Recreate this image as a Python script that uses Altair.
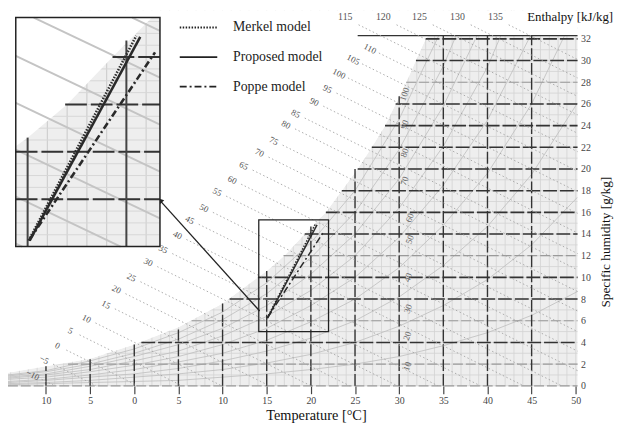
import altair as alt
import pandas as pd

FONT = "Liberation Serif"

# ---------------- axes ranges ----------------
T_MIN, T_MAX = -14.3, 50.2
W_MIN, W_MAX = 0.0, 34.6

# ---------------- saturation boundary ----------------
SAT_T = [-14.3, -10, -5, 0, 5, 10, 15, 17, 19.3, 21.7, 23.5, 25.3, 26.9, 28.4, 29.6, 30.8, 31.9, 33.0, 33.3, 50.2]
SAT_W = [1.2, 1.8, 2.5, 3.8, 5.4, 7.6, 10.6, 12, 14, 16, 18, 20, 22, 24, 26, 28, 30, 32, 32.3, 32.3]

# fine background grid
GRID_T = list(range(-14, 51))
GRID_W = list(range(0, 35))

# specific humidity lines: level and starting temperature
HUM_LEVELS = [0, 2, 4, 6, 8, 10, 12, 14, 16, 18, 20, 22, 24, 26, 28, 30, 32]
HUM_T0 = [-14.3, -7.5, 0.8, 6.5, 10.8, 14.0, 16.9, 19.3, 21.7, 23.5, 25.3, 26.9, 28.4, 29.6, 30.8, 31.9, 33.0]
LIGHT_LEVELS = [0, 2, 6, 12, 28]
FRAME_W, FRAME_T0 = 32.3, 25.3

# temperature lines: level and top (saturation) humidity
TEMP_LEVELS = [-10, -5, 0, 5, 10, 15, 20, 25, 30, 35, 40, 45]
TEMP_TOP = [1.8, 2.5, 3.8, 5.4, 7.6, 10.6, 14.7, 20.0, 26.7, 32.3, 32.3, 32.3]
X_TICKS = [-10, -5, 0, 5, 10, 15, 20, 25, 30, 35, 40, 45, 50]
Y_TICKS = list(range(0, 33, 2))

# relative humidity curves
RH_T = [-14.3, -10, -5, 0, 5, 10, 15, 20, 25, 30, 35, 40, 45, 50.2]
RH_CURVES = {
    10: [0.1, 0.2, 0.3, 0.4, 0.5, 0.8, 1.1, 1.5, 2.0, 2.7, 3.7, 4.9, 6.5, 8.7],
    20: [0.2, 0.3, 0.5, 0.8, 1.1, 1.5, 2.1, 2.9, 4.0, 5.5, 7.4, 9.8, 13.0, 17.4],
    30: [0.3, 0.5, 0.8, 1.1, 1.6, 2.3, 3.2, 4.4, 6.0, 8.2, 11.1, 14.7, 19.5, 26.1],
    40: [0.4, 0.6, 1.0, 1.5, 2.2, 3.0, 4.2, 5.9, 8.0, 10.9, 14.8, 19.6, 26.0, 34.8],
    50: [0.6, 0.8, 1.3, 1.9, 2.7, 3.8, 5.3, 7.4, 10.0, 13.7, 18.5, 24.5, 32.5, 43.5],
    60: [0.7, 1.0, 1.5, 2.3, 3.2, 4.6, 6.4, 8.8, 12.0, 16.4, 22.1, 29.4, 39.0, 52.0],
    70: [0.8, 1.1, 1.8, 2.7, 3.8, 5.3, 7.4, 10.3, 14.0, 19.1, 25.8, 34.3, 45.5, 61.0],
    80: [0.9, 1.3, 2.0, 3.0, 4.3, 6.1, 8.5, 11.8, 16.0, 21.8, 29.5, 39.2, 52.0, 70.0],
    90: [1.0, 1.4, 2.3, 3.4, 4.9, 6.8, 9.5, 13.2, 18.0, 24.6, 33.2, 44.1, 58.5, 78.0],
}
RH_LAB = [100, 90, 80, 70, 60, 50, 40, 30, 20, 10]
RH_LAB_T = [30.6, 30.6, 30.6, 30.6, 31.2, 31.2, 31.0, 31.0, 30.9, 30.9]
RH_LAB_W = [26.9, 24.1, 21.5, 18.9, 15.5, 13.5, 10.0, 7.1, 4.6, 1.8]

# enthalpy lines (labels on the left/top, segments)
H_VALUES = [-10, -5, 0, 5, 10, 15, 20, 25, 30, 35, 40, 45, 50, 55, 60, 65, 70, 75, 80, 85,
            90, 95, 100, 105, 110, 115, 120, 125, 130, 135]
H_LAB_T = [-11.5, -10.2, -8.7, -7.2, -5.4, -3.2, -2.0, -0.3, 1.6, 3.3, 4.9, 6.3, 7.9, 9.4, 11.1,
           12.4, 14.2, 15.8, 17.2, 18.3, 20.4, 21.9, 23.2, 24.8, 26.7, 23.9, 28.2, 32.3, 36.6, 40.9]
H_LAB_W = [1.0, 2.4, 3.7, 5.1, 6.2, 7.5, 8.9, 10.0, 11.4, 12.6, 13.9, 15.3, 16.4, 17.9, 19.0,
           20.3, 21.5, 22.6, 24.1, 25.1, 26.2, 27.4, 28.8, 30.1, 31.1, 34.0, 34.0, 34.0, 34.0, 34.0]
H_T0 = [-10.5, -9.2, -7.7, -6.2, -4.4, -2.2, -1.0, 0.7, 2.6, 4.3, 5.9, 7.3, 8.9, 10.4, 12.1,
        13.4, 15.2, 16.8, 18.2, 19.3, 21.4, 22.9, 24.2, 25.8, 27.7, 25.4, 29.7, 33.8, 38.1, 42.4]
H_W0 = [0.6, 2.0, 3.3, 4.7, 5.8, 7.1, 8.5, 9.6, 11.0, 12.2, 13.5, 14.9, 16.0, 17.5, 18.6,
        19.9, 21.1, 22.2, 23.7, 24.7, 25.8, 27.0, 28.4, 29.7, 30.7, 33.3, 33.3, 33.3, 33.3, 33.3]
H_T1 = [-9.0, -4.3, 0.4, 5.4, 9.9, 15.3, 20.0, 24.4, 29.8, 34.4, 39.2, 44.1, 48.4, 50.2, 50.2,
        50.2, 50.2, 50.2, 50.2, 50.2, 50.2, 50.2, 50.2, 50.2, 50.2, 50.2, 50.2, 50.2, 50.2, 50.2]
H_W1 = [0, 0, 0, 0, 0, 0, 0, 0, 0, 0, 0, 0, 0, 1.4, 3.2,
        5.0, 6.9, 8.7, 10.7, 12.2, 14.1, 15.9, 17.9, 19.8, 21.6, 23.3, 25.0, 26.7, 28.4, 30.1]
N_LEFT_LABELS = 25

# model lines
MODELS = ["Merkel model", "Proposed model", "Poppe model"]
M_T0 = [15.05, 15.1, 15.1]
M_W0 = [6.25, 6.25, 6.3]
M_T1 = [20.5, 20.7, 21.45]
M_W1 = [14.9, 14.85, 14.2]

# zoom box in the chart and magnified inset
BOX_T = [14.1, 22.0]
BOX_W = [5.0, 15.3]
SRC_T = [14.4, 21.7]
SRC_W = [6.0, 15.67]
DST_T = [-13.42, 2.91]
DST_W = [12.84, 33.97]
ARROW_T = [14.2, 2.9]
ARROW_W = [6.9, 17.1]

# saturation inside the inset window
IN_SAT_T = [14.4, 15, 17, 19.3, 21.3, 21.7]
IN_SAT_W = [10.24, 10.6, 12, 14, 15.67, 15.67]
IN_GRID_T = [15, 16, 17, 18, 19, 20, 21]
IN_GRID_W = [6.5, 7, 7.5, 8, 8.5, 9, 9.5, 10, 10.5, 11, 11.5, 12, 12.5, 13, 13.5, 14, 14.5, 15, 15.5]
# enthalpy segments inside the inset window
IN_H_T0 = [14.4, 14.4, 14.4, 14.4, 14.4, 15.31, 20.29]
IN_H_W0 = [6.13, 8.11, 10.09, 12.07, 14.05, 15.67, 15.67]
IN_H_T1 = [14.73, 19.71, 21.7, 21.7, 21.7, 21.7, 21.7]
IN_H_W1 = [6.0, 6.0, 7.19, 9.17, 11.15, 13.13, 15.11]


def zt(t):
    return DST_T[0] + (t - SRC_T[0]) * (DST_T[1] - DST_T[0]) / (SRC_T[1] - SRC_T[0])


def zw(w):
    return DST_W[0] + (w - SRC_W[0]) * (DST_W[1] - DST_W[0]) / (SRC_W[1] - SRC_W[0])


# ---------------- encodings ----------------
XS = alt.Scale(domain=[T_MIN, T_MAX], nice=False, zero=False)
YS = alt.Scale(domain=[W_MIN, W_MAX], nice=False, zero=False)
XAX = alt.Axis(values=X_TICKS, labelExpr="abs(datum.value)", title="Temperature [°C]",
               titleX=312, titleY=34, titleAlign="center", titleBaseline="alphabetic",
               grid=False, domain=False, tickSize=8, tickColor="#444", tickWidth=1.2,
               labelFont=FONT, labelFontSize=10, labelColor="#444", labelPadding=2,
               titleFont=FONT, titleFontSize=14.5, titleFontWeight="normal", titleColor="#111")
YAX = alt.Axis(orient="right", values=Y_TICKS, title="Specific humidity [g/kg]",
               titleAngle=270, titleX=28, titleY=234, titleAlign="center", titleBaseline="middle",
               grid=False, domain=False, ticks=False, labelPadding=3,
               labelFont=FONT, labelFontSize=10, labelColor="#444",
               titleFont=FONT, titleFontSize=13.5, titleFontWeight="normal", titleColor="#111")


def X(f):
    return alt.X(f, type="quantitative", scale=XS, axis=XAX)


def Y(f):
    return alt.Y(f, type="quantitative", scale=YS, axis=YAX, stack=None)


DASH_SCALE = alt.Scale(domain=MODELS, range=[[1.5, 1.5], [1, 0], [7, 3, 2, 3]])
LEG = alt.Legend(title=None, orient="none", legendX=173, legendY=-3, symbolType="stroke",
                 symbolSize=1444, symbolStrokeWidth=1.8, symbolStrokeColor="#222",
                 labelFont=FONT, labelFontSize=14, labelColor="#222", rowPadding=3, labelOffset=15)
DASH = alt.StrokeDash("model:N", scale=DASH_SCALE, legend=LEG)

# ---------------- data frames ----------------
grid_v = pd.DataFrame({"T": GRID_T, "w0": W_MIN, "w1": W_MAX})
grid_h = pd.DataFrame({"w": GRID_W, "T0": T_MIN, "T1": T_MAX})
rh_df = pd.DataFrame([{"rh": k, "T": t, "w": w} for k, ws in RH_CURVES.items() for t, w in zip(RH_T, ws)])
sat_df = pd.DataFrame({"T": SAT_T, "w": SAT_W, "top": W_MAX, "bottom": W_MIN})
hum_df = pd.DataFrame({"w": HUM_LEVELS, "T0": HUM_T0, "T1": T_MAX})
hum_dark = hum_df[~hum_df["w"].isin(LIGHT_LEVELS)]
hum_light = hum_df[hum_df["w"].isin(LIGHT_LEVELS)]
frame_df = pd.DataFrame({"w": [FRAME_W], "T0": [FRAME_T0], "T1": [T_MAX]})
temp_df = pd.DataFrame({"T": TEMP_LEVELS, "w0": 0.0, "w1": TEMP_TOP})
h_df = pd.DataFrame({"h": H_VALUES, "T0": H_T0, "w0": H_W0, "T1": H_T1, "w1": H_W1,
                     "LT": H_LAB_T, "LW": H_LAB_W})
h_left = h_df.iloc[:N_LEFT_LABELS]
h_top = h_df.iloc[N_LEFT_LABELS:]
rh_lab = pd.DataFrame({"rh": RH_LAB, "T": RH_LAB_T, "w": RH_LAB_W})
model_df = pd.DataFrame({"model": MODELS, "T0": M_T0, "w0": M_W0, "T1": M_T1, "w1": M_W1})
box_df = pd.DataFrame({"T0": [BOX_T[0]], "T1": [BOX_T[1]], "w0": [BOX_W[0]], "w1": [BOX_W[1]]})
inset_df = pd.DataFrame({"T0": [DST_T[0]], "T1": [DST_T[1]], "w0": [DST_W[0]], "w1": [DST_W[1]]})
arrow_df = pd.DataFrame({"T0": [ARROW_T[0]], "w0": [ARROW_W[0]], "T1": [ARROW_T[1]], "w1": [ARROW_W[1]]})
head_df = pd.DataFrame({"T": [ARROW_T[1]], "w": [ARROW_W[1]]})
title_df = pd.DataFrame({"T": [44.5], "w": [33.97], "txt": ["Enthalpy [kJ/kg]"]})

# inset frames (transformed into chart coordinates)
in_gv = pd.DataFrame({"T": [zt(t) for t in IN_GRID_T], "w0": zw(SRC_W[0]), "w1": zw(SRC_W[1])})
in_gh = pd.DataFrame({"w": [zw(w) for w in IN_GRID_W], "T0": zt(SRC_T[0]), "T1": zt(SRC_T[1])})
in_mask = pd.DataFrame({"T": [zt(t) for t in IN_SAT_T], "w": [zw(w) for w in IN_SAT_W], "top": zw(SRC_W[1])})
in_h = pd.DataFrame({"T0": [zt(t) for t in IN_H_T0], "w0": [zw(w) for w in IN_H_W0],
                     "T1": [zt(t) for t in IN_H_T1], "w1": [zw(w) for w in IN_H_W1]})
in_hum_rows = []
for w, t0 in zip(HUM_LEVELS, HUM_T0):
    if SRC_W[0] < w < SRC_W[1]:
        in_hum_rows.append({"w": zw(w), "T0": zt(max(t0, SRC_T[0])), "T1": zt(SRC_T[1])})
in_hum = pd.DataFrame(in_hum_rows)
in_temp_rows = []
for t, top in zip(TEMP_LEVELS, TEMP_TOP):
    if SRC_T[0] < t < SRC_T[1]:
        in_temp_rows.append({"T": zt(t), "w0": zw(SRC_W[0]), "w1": zw(min(top, SRC_W[1]))})
in_temp = pd.DataFrame(in_temp_rows)
in_model = pd.DataFrame({"model": MODELS, "T0": [zt(t) for t in M_T0], "w0": [zw(w) for w in M_W0],
                         "T1": [zt(t) for t in M_T1], "w1": [zw(w) for w in M_W1]})

DARK = "#333333"
LIGHT = "#9a9a9a"

# ---------------- layers ----------------
layers = []
layers.append(alt.Chart(sat_df).mark_area(color="#eeeeee", opacity=1).encode(
    x=X("T"), y=Y("w"), y2="bottom"))
layers.append(alt.Chart(grid_v).mark_rule(color="#d2d2d2", strokeWidth=0.8).encode(
    x=X("T"), y=Y("w0"), y2="w1"))
layers.append(alt.Chart(grid_h).mark_rule(color="#d2d2d2", strokeWidth=0.8).encode(
    x=X("T0"), x2="T1", y=Y("w")))
layers.append(alt.Chart(rh_df).mark_line(color="#bdbdbd", strokeWidth=0.8, clip=True).encode(
    x=X("T"), y=Y("w"), detail="rh:N"))
layers.append(alt.Chart(sat_df).mark_area(color="white", opacity=1).encode(
    x=X("T"), y=Y("w"), y2="top"))
layers.append(alt.Chart(hum_light).mark_rule(color=LIGHT, strokeWidth=1.2, strokeDash=[10, 3]).encode(
    x=X("T0"), x2="T1", y=Y("w")))
layers.append(alt.Chart(hum_dark).mark_rule(color=DARK, strokeWidth=1.6, strokeDash=[14, 3]).encode(
    x=X("T0"), x2="T1", y=Y("w")))
layers.append(alt.Chart(frame_df).mark_rule(color=DARK, strokeWidth=1.4).encode(
    x=X("T0"), x2="T1", y=Y("w")))
layers.append(alt.Chart(temp_df).mark_rule(color=DARK, strokeWidth=1.4, strokeDash=[12, 3]).encode(
    x=X("T"), y=Y("w0"), y2="w1"))
layers.append(alt.Chart(h_df).mark_rule(color="#a2a2a2", strokeWidth=0.9, strokeDash=[1.5, 2.5]).encode(
    x=X("T0"), y=Y("w0"), x2="T1", y2="w1"))
layers.append(alt.Chart(h_left).mark_text(font=FONT, fontSize=9, color="#555", angle=27).encode(
    x=X("LT"), y=Y("LW"), text="h:Q"))
layers.append(alt.Chart(h_top).mark_text(font=FONT, fontSize=10, color="#555").encode(
    x=X("LT"), y=Y("LW"), text="h:Q"))
layers.append(alt.Chart(rh_lab).mark_text(font=FONT, fontSize=9, color="#666", angle=290).encode(
    x=X("T"), y=Y("w"), text="rh:Q"))
layers.append(alt.Chart(title_df).mark_text(font=FONT, fontSize=13, color="#111", align="left",
                                            baseline="middle").encode(x=X("T"), y=Y("w"), text="txt:N"))
layers.append(alt.Chart(model_df).mark_rule(color="#2a2a2a", strokeWidth=1.5).encode(
    x=X("T0"), y=Y("w0"), x2="T1", y2="w1", strokeDash=DASH))
layers.append(alt.Chart(box_df).mark_rect(fillOpacity=0, stroke="#222", strokeWidth=1.3).encode(
    x=X("T0"), x2="T1", y=Y("w0"), y2="w1"))
layers.append(alt.Chart(arrow_df).mark_rule(color="#222", strokeWidth=1.3).encode(
    x=X("T0"), y=Y("w0"), x2="T1", y2="w1"))
layers.append(alt.Chart(head_df).mark_point(shape="triangle-up", angle=318, size=45, filled=True,
                                            color="#222", opacity=1).encode(x=X("T"), y=Y("w")))
# inset
layers.append(alt.Chart(inset_df).mark_rect(fill="#eeeeee").encode(
    x=X("T0"), x2="T1", y=Y("w0"), y2="w1"))
layers.append(alt.Chart(in_gv).mark_rule(color="#cfcfcf", strokeWidth=1.2).encode(
    x=X("T"), y=Y("w0"), y2="w1"))
layers.append(alt.Chart(in_gh).mark_rule(color="#d6d6d6", strokeWidth=1).encode(
    x=X("T0"), x2="T1", y=Y("w")))
layers.append(alt.Chart(in_mask).mark_area(color="white", opacity=1).encode(
    x=X("T"), y=Y("w"), y2="top"))
layers.append(alt.Chart(in_h).mark_rule(color="#c4c4c4", strokeWidth=2).encode(
    x=X("T0"), y=Y("w0"), x2="T1", y2="w1"))
layers.append(alt.Chart(in_hum).mark_rule(color=DARK, strokeWidth=2, strokeDash=[22, 4]).encode(
    x=X("T0"), x2="T1", y=Y("w")))
layers.append(alt.Chart(in_temp).mark_rule(color="#444", strokeWidth=2).encode(
    x=X("T"), y=Y("w0"), y2="w1"))
layers.append(alt.Chart(in_model).mark_rule(color="#2a2a2a", strokeWidth=2.6).encode(
    x=X("T0"), y=Y("w0"), x2="T1", y2="w1", strokeDash=DASH))
layers.append(alt.Chart(inset_df).mark_rect(fillOpacity=0, stroke="#222", strokeWidth=1.5).encode(
    x=X("T0"), x2="T1", y=Y("w0"), y2="w1"))

chart = alt.layer(*layers).properties(
    width=577, height=380,
    autosize=alt.AutoSizeParams(type="none"),
    padding={"left": 0, "top": 0, "right": 42, "bottom": 40},
).configure_view(strokeWidth=0)

chart.save("out.html", embed_options={"renderer": "svg", "actions": False})
